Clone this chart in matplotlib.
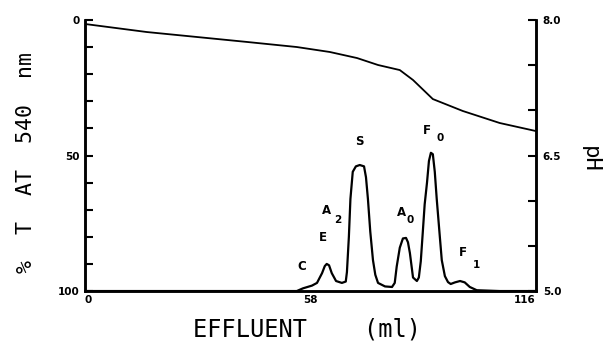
import matplotlib
matplotlib.use('Agg')
import matplotlib.pyplot as plt

# pH gradient (right axis)
ph_ml = [0, 15.9, 28.8, 41.7, 54.5, 63.0, 70.0, 75.4, 81.0, 84.4, 89.5, 97.2, 106.7, 116]
ph_val = [7.956, 7.867, 7.812, 7.757, 7.701, 7.646, 7.579, 7.502, 7.446, 7.336,
          7.125, 6.993, 6.860, 6.771]

# %T at 540 nm (left axis, inverted)
t_ml = [0, 54.5, 56.1, 58.4, 59.7, 61.0, 61.7, 62.2, 62.8, 63.5, 64.6, 66.1, 67.1,
        67.4, 67.9, 68.3, 68.9, 69.7, 70.7, 71.8, 72.3, 72.8, 73.4, 74.1, 74.7, 75.4,
        77.2, 79.0, 79.7, 80.2, 81.0, 81.8, 82.6, 83.1, 83.6, 84.4, 85.4, 85.9, 86.4,
        86.9, 87.4, 88.0, 88.5, 89.0, 89.5, 90.0, 90.5, 91.3, 91.8, 92.6, 93.4, 94.1,
        95.2, 96.5, 97.7, 99.0, 100.8, 106.7, 116]
t_val = [100, 100, 99, 98, 97, 93.4, 90.8, 90, 90.5, 93.4, 96.3, 97, 96.5,
         93, 80, 66, 56, 54, 53.5, 54, 58, 66, 78, 88.6, 94, 97,
         98.3, 98.5, 97, 91, 84, 80.6, 80.4, 82, 86, 95, 96.3, 95, 89,
         78.6, 68, 60, 52, 49, 49.5, 56, 66, 80, 88.6, 94.5, 96.7, 97.4,
         96.8, 96.3, 96.8, 98.5, 99.7, 100, 100]

# peak labels: (text, subscript, x, y, sub x, sub y)
peaks = [('C', '', 55.8, 91.1, 0, 0),
         ('E', '', 61.2, 80.4, 0, 0),
         ('A', '2', 62.2, 70.1, 65.1, 73.8),
         ('S', '', 70.7, 45.0, 0, 0),
         ('A', '0', 81.5, 71.2, 83.6, 73.8),
         ('F', '0', 88.0, 40.6, 91.3, 43.5),
         ('F', '1', 97.2, 85.6, 100.6, 90.4)]

fig = plt.figure(figsize=(6.11, 3.42), dpi=100)
ax = fig.add_axes([0.139, 0.149, 0.738, 0.7925])
ax2 = ax.twinx()

ax.plot(t_ml, t_val, color='black', lw=1.6, solid_joinstyle='round')
ax2.plot(ph_ml, ph_val, color='black', lw=1.3)

ax.set_xlim(0, 116)
ax.set_ylim(100, 0)
ax2.set_ylim(5.0, 8.0)

for a in (ax, ax2):
    a.spines['top'].set_visible(False)
    for s in ('left', 'right', 'bottom'):
        a.spines[s].set_linewidth(1.8)

ax.set_yticks(range(0, 101, 10))
ax.set_yticklabels(['0', '', '', '', '', '50', '', '', '', '', '100'])
ax.tick_params(axis='y', direction='in', length=6, width=1.5, pad=4,
               labelsize=7.5)
ax2.set_yticks([8.0, 7.5, 7.0, 6.5, 6.0, 5.5, 5.0])
ax2.set_yticklabels(['8.0', '', '', '6.5', '', '', '5.0'])
ax2.tick_params(axis='y', direction='in', length=6, width=1.5, pad=5,
                labelsize=7.5)
for lab in ax.get_yticklabels() + ax2.get_yticklabels():
    lab.set_fontweight('bold')

ax.set_xticks([0, 58, 116])
ax.set_xticklabels(['0', '58', '116'], fontsize=7.5, fontweight='bold')
ax.tick_params(axis='x', length=0, pad=3)
xl = ax.get_xticklabels()
xl[0].set_ha('left')
xl[2].set_ha('right')

for name, sub, x, y, sx, sy in peaks:
    ax.text(x, y, name, fontsize=8.5, fontweight='bold', ha='center', va='center')
    if sub:
        ax.text(sx, sy, sub, fontsize=7.5, fontweight='bold', ha='center', va='center')

fig.text(0.043, 0.526, '%  T  AT  540  nm', rotation=90, ha='center', va='center',
         fontsize=15.5, family='DejaVu Sans Mono')
fig.text(0.966, 0.535, 'pH', rotation=-90, ha='center', va='center',
         fontsize=16, family='DejaVu Sans Mono')
fig.text(0.503, 0.038, 'EFFLUENT    (ml)', ha='center', va='center',
         fontsize=17, family='DejaVu Sans Mono')

plt.savefig('out.png', dpi=100)
